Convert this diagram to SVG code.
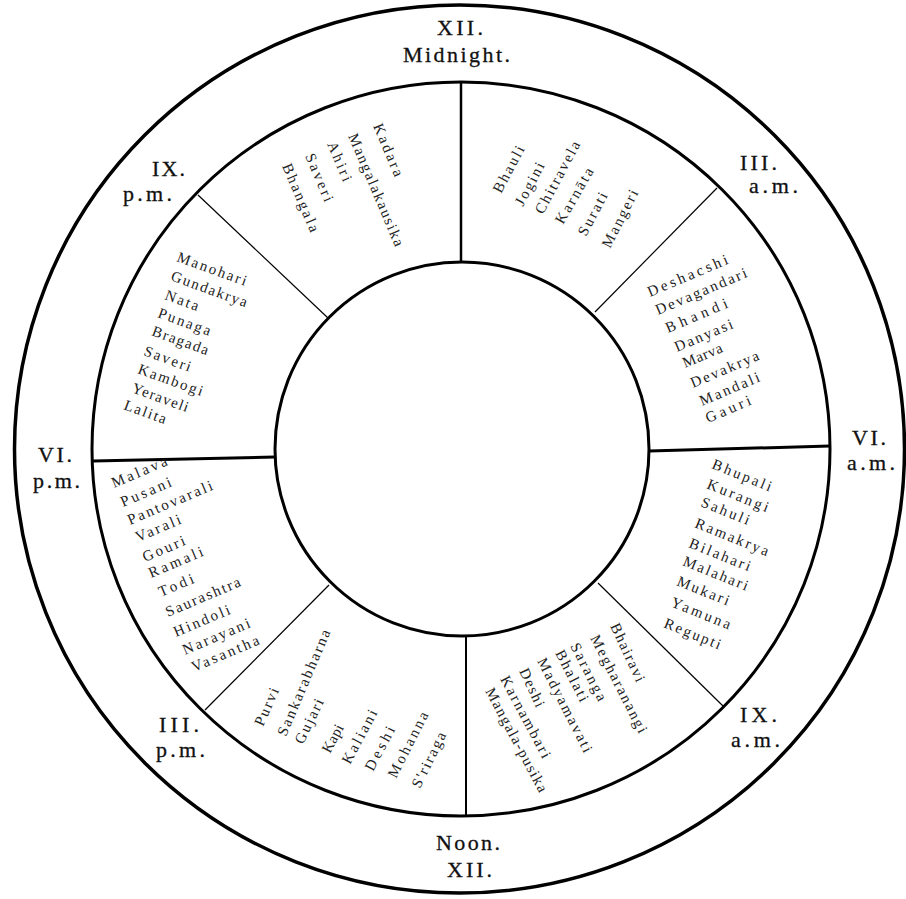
<svg xmlns="http://www.w3.org/2000/svg" width="906" height="899" viewBox="0 0 906 899">
<style>
.ring{fill:none;stroke:#000}
.spoke{stroke:#000;fill:none}
.lbl{font-family:"Liberation Serif","DejaVu Serif",serif;font-size:22px;fill:#111;stroke:#111;stroke-width:0.3}
.nm{font-family:"Liberation Serif","DejaVu Serif",serif;font-size:15px;fill:#222}
</style>
<rect width="906" height="899" fill="#fff"/>
<g id="rings">
<ellipse class="ring" cx="459.5" cy="449" rx="445" ry="444" stroke-width="3.5"/>
<ellipse class="ring" cx="461" cy="449" rx="369" ry="367" stroke-width="3"/>
<circle class="ring" cx="462" cy="449" r="187" stroke-width="3"/>
</g>
<g id="connectors">
<line class="spoke" x1="461" y1="82" x2="461" y2="263" stroke-width="2.5"/>
<line class="spoke" x1="466" y1="636" x2="466" y2="816" stroke-width="2"/>
<line class="spoke" x1="93" y1="461" x2="275" y2="457" stroke-width="3"/>
<line class="spoke" x1="649" y1="451" x2="830" y2="446" stroke-width="3"/>
<line class="spoke" x1="198" y1="195" x2="328" y2="318" stroke-width="1.2"/>
<line class="spoke" x1="717" y1="188" x2="595" y2="312" stroke-width="1.2"/>
<line class="spoke" x1="205" y1="710" x2="329" y2="585" stroke-width="1.2"/>
<line class="spoke" x1="598" y1="583" x2="723" y2="706" stroke-width="1.2"/>
</g>
<g id="hour-labels" class="lbl">
<text x="437" y="35" textLength="46" lengthAdjust="spacing">XII.</text>
<text x="403" y="62" textLength="107" lengthAdjust="spacing">Midnight.</text>
<text x="152" y="176" textLength="33" lengthAdjust="spacing">IX.</text>
<text x="123" y="201" textLength="49" lengthAdjust="spacing">p.m.</text>
<text x="740" y="170" textLength="37" lengthAdjust="spacing">III.</text>
<text x="749" y="193" textLength="49" lengthAdjust="spacing">a.m.</text>
<text x="38" y="462" textLength="34" lengthAdjust="spacing">VI.</text>
<text x="33" y="488" textLength="47" lengthAdjust="spacing">p.m.</text>
<text x="852" y="445" textLength="34" lengthAdjust="spacing">VI.</text>
<text x="847" y="470" textLength="48" lengthAdjust="spacing">a.m.</text>
<text x="159" y="732" textLength="40" lengthAdjust="spacing">III.</text>
<text x="156" y="757" textLength="49" lengthAdjust="spacing">p.m.</text>
<text x="740" y="722" textLength="37" lengthAdjust="spacing">IX.</text>
<text x="731" y="747" textLength="49" lengthAdjust="spacing">a.m.</text>
<text x="436" y="850" textLength="64" lengthAdjust="spacing">Noon.</text>
<text x="447" y="877" textLength="45" lengthAdjust="spacing">XII.</text>
</g>
<g id="sector-midnight-left" class="nm">
<text transform="translate(373 126) rotate(67)" textLength="56" lengthAdjust="spacing">Kadara</text>
<text transform="translate(348 136) rotate(67)" textLength="121" lengthAdjust="spacing">Mangalakausika</text>
<text transform="translate(327 144) rotate(67)" textLength="42" lengthAdjust="spacing">Ahiri</text>
<text transform="translate(305 156) rotate(67)" textLength="51" lengthAdjust="spacing">Saveri</text>
<text transform="translate(282 166) rotate(67)" textLength="73" lengthAdjust="spacing">Bhangala</text>
</g>
<g id="sector-midnight-right" class="nm">
<text transform="translate(501 194) rotate(-62)" textLength="51" lengthAdjust="spacing">Bhauli</text>
<text transform="translate(523 207) rotate(-62)" textLength="47" lengthAdjust="spacing">Jogini</text>
<text transform="translate(543 215) rotate(-62)" textLength="80" lengthAdjust="spacing">Chitravela</text>
<text transform="translate(563 225) rotate(-60)" textLength="62" lengthAdjust="spacing">Karnāta</text>
<text transform="translate(586 237) rotate(-62)" textLength="47" lengthAdjust="spacing">Surati</text>
<text transform="translate(610 249) rotate(-63)" textLength="63" lengthAdjust="spacing">Mangeri</text>
</g>
<g id="sector-3am" class="nm">
<text transform="translate(650 297) rotate(-23)" textLength="86" lengthAdjust="spacing">Deshacshi</text>
<text transform="translate(658 315) rotate(-23)" textLength="98" lengthAdjust="spacing">Devagandari</text>
<text transform="translate(668 333) rotate(-23)" textLength="66" lengthAdjust="spacing">Bhandi</text>
<text transform="translate(677 352) rotate(-23)" textLength="62" lengthAdjust="spacing">Danyasi</text>
<text transform="translate(685 368) rotate(-23)" textLength="42" lengthAdjust="spacing">Marva</text>
<text transform="translate(693 388) rotate(-23)" textLength="73" lengthAdjust="spacing">Devakrya</text>
<text transform="translate(702 406) rotate(-23)" textLength="64" lengthAdjust="spacing">Mandali</text>
<text transform="translate(708 423) rotate(-23)" textLength="48" lengthAdjust="spacing">Gauri</text>
</g>
<g id="sector-6am" class="nm">
<text transform="translate(711 468) rotate(22)" textLength="63" lengthAdjust="spacing">Bhupali</text>
<text transform="translate(706 488) rotate(22)" textLength="65" lengthAdjust="spacing">Kurangi</text>
<text transform="translate(700 506) rotate(22)" textLength="51" lengthAdjust="spacing">Sahuli</text>
<text transform="translate(694 527) rotate(22)" textLength="78" lengthAdjust="spacing">Ramakrya</text>
<text transform="translate(688 547) rotate(22)" textLength="65" lengthAdjust="spacing">Bilahari</text>
<text transform="translate(682 565) rotate(22)" textLength="69" lengthAdjust="spacing">Malahari</text>
<text transform="translate(676 585) rotate(22)" textLength="55" lengthAdjust="spacing">Mukari</text>
<text transform="translate(670 606) rotate(22)" textLength="63" lengthAdjust="spacing">Yamuna</text>
<text transform="translate(663 627) rotate(22)" textLength="60" lengthAdjust="spacing">Regupti</text>
</g>
<g id="sector-9am" class="nm">
<text transform="translate(610 626) rotate(65)" textLength="63" lengthAdjust="spacing">Bhairavi</text>
<text transform="translate(590 638) rotate(63)" textLength="108" lengthAdjust="spacing">Megharanangi</text>
<text transform="translate(570 646) rotate(63)" textLength="63" lengthAdjust="spacing">Saranga</text>
<text transform="translate(555 653) rotate(63)" textLength="56" lengthAdjust="spacing">Bhalati</text>
<text transform="translate(537 661) rotate(63)" textLength="104" lengthAdjust="spacing">Madyamavati</text>
<text transform="translate(519 671) rotate(65)" textLength="41" lengthAdjust="spacing">Deshi</text>
<text transform="translate(500 679) rotate(62)" textLength="91" lengthAdjust="spacing">Karnambari</text>
<text transform="translate(485 691) rotate(62)" textLength="116" lengthAdjust="spacing">Mangala-pusika</text>
</g>
<g id="sector-noon" class="nm">
<text transform="translate(263 727) rotate(-66)" textLength="40" lengthAdjust="spacing">Purvi</text>
<text transform="translate(286 737) rotate(-67)" textLength="114" lengthAdjust="spacing">Sankarabharna</text>
<text transform="translate(303 745) rotate(-64)" textLength="48" lengthAdjust="spacing">Gujari</text>
<text transform="translate(330 754) rotate(-62)" textLength="30" lengthAdjust="spacing">Kapi</text>
<text transform="translate(350 765) rotate(-62)" textLength="59" lengthAdjust="spacing">Kaliani</text>
<text transform="translate(373 772) rotate(-62)" textLength="48" lengthAdjust="spacing">Deshi</text>
<text transform="translate(396 779) rotate(-63)" textLength="72" lengthAdjust="spacing">Mohanna</text>
<text transform="translate(420 789) rotate(-64)" textLength="60" lengthAdjust="spacing">S'riraga</text>
</g>
<g id="sector-3pm" class="nm">
<text transform="translate(114 488) rotate(-23)" textLength="59" lengthAdjust="spacing">Malava</text>
<text transform="translate(123 507) rotate(-23)" textLength="54" lengthAdjust="spacing">Pusani</text>
<text transform="translate(130 525) rotate(-23)" textLength="91" lengthAdjust="spacing">Pantovarali</text>
<text transform="translate(138 542) rotate(-23)" textLength="48" lengthAdjust="spacing">Varali</text>
<text transform="translate(145 562) rotate(-23)" textLength="45" lengthAdjust="spacing">Gouri</text>
<text transform="translate(151 578) rotate(-23)" textLength="58" lengthAdjust="spacing">Ramali</text>
<text transform="translate(161 597) rotate(-23)" textLength="37" lengthAdjust="spacing">Todi</text>
<text transform="translate(168 617) rotate(-23)" textLength="80" lengthAdjust="spacing">Saurashtra</text>
<text transform="translate(176 637) rotate(-23)" textLength="60" lengthAdjust="spacing">Hindoli</text>
<text transform="translate(185 655) rotate(-23)" textLength="72" lengthAdjust="spacing">Narayani</text>
<text transform="translate(194 672) rotate(-23)" textLength="72" lengthAdjust="spacing">Vasantha</text>
</g>
<g id="sector-6pm" class="nm">
<text transform="translate(176 261) rotate(20)" textLength="73" lengthAdjust="spacing">Manohari</text>
<text transform="translate(170 280) rotate(20)" textLength="80" lengthAdjust="spacing">Gundakrya</text>
<text transform="translate(164 299) rotate(20)" textLength="35" lengthAdjust="spacing">Nata</text>
<text transform="translate(157 317) rotate(20)" textLength="55" lengthAdjust="spacing">Punaga</text>
<text transform="translate(151 335) rotate(20)" textLength="59" lengthAdjust="spacing">Bragada</text>
<text transform="translate(143 355) rotate(20)" textLength="49" lengthAdjust="spacing">Saveri</text>
<text transform="translate(137 373) rotate(20)" textLength="68" lengthAdjust="spacing">Kambogi</text>
<text transform="translate(131 392) rotate(20)" textLength="59" lengthAdjust="spacing">Yeraveli</text>
<text transform="translate(123 409) rotate(20)" textLength="44" lengthAdjust="spacing">Lalita</text>
</g>
</svg>
